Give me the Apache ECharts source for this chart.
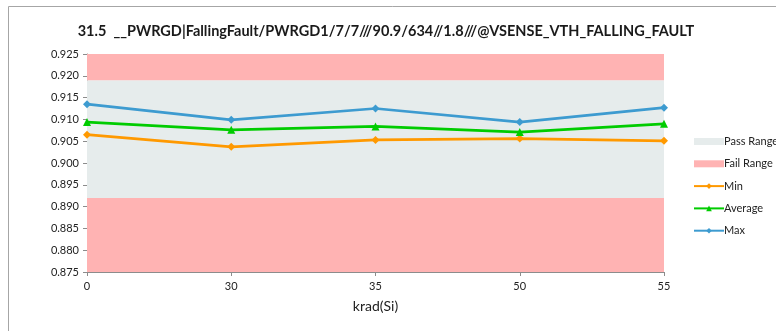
<!DOCTYPE html>
<html>
<head>
<meta charset="utf-8">
<script src="https://cdn.jsdelivr.net/npm/echarts@6/dist/echarts.min.js"></script>
<style>html,body{margin:0;padding:0;background:#fff}#c{width:776px;height:331px}</style>
</head>
<body>
<div id="c"></div>
<script>
const titleText = '31.5  __PWRGD|FallingFault/PWRGD1/7/7///90.9/634//1.8///@VSENSE_VTH_FALLING_FAULT';
const categories = ['0', '30', '35', '50', '55'];
const minValues = [0.9065, 0.9037, 0.9053, 0.9056, 0.9051];
const avgValues = [0.9094, 0.9076, 0.9084, 0.9071, 0.9090];
const maxValues = [0.9135, 0.9099, 0.9125, 0.9094, 0.9127];
const passRange = [0.892, 0.919];
const failRangeHigh = [0.919, 0.925];
const failRangeLow = [0.875, 0.892];
const yTicks = [0.875, 0.925, 0.005];

const FONT = 'Lato';
const chart = echarts.init(document.getElementById('c'));
chart.setOption({
  animation: false,
  textStyle: { fontFamily: FONT },
  graphic: [{
    type: 'rect', shape: { x: 8.5, y: 6.5, width: 800, height: 400 },
    style: { fill: 'none', stroke: '#a6a6a6', lineWidth: 1 }, silent: true, z: -1
  }],
  title: {
    text: titleText, left: 381, top: 19, textAlign: 'center',
    textStyle: { fontFamily: FONT, fontWeight: 'bold', fontSize: 14.5, color: '#1a1a1a' }
  },
  grid: { left: 87, right: 112, top: 54, bottom: 59 },
  legend: {
    orient: 'vertical', left: 688, top: 131, itemWidth: 30, itemHeight: 7, itemGap: 11.3,
    textStyle: { fontFamily: FONT, fontSize: 11, color: '#222', padding: [0, 0, 0, -5] },
    data: [
      { name: 'Pass Range', icon: 'rect' },
      { name: 'Fail Range', icon: 'rect' },
      'Min', 'Average', 'Max'
    ]
  },
  xAxis: {
    type: 'category', data: categories, boundaryGap: false,
    name: 'krad(Si)', nameLocation: 'middle', nameGap: 27,
    nameTextStyle: { fontFamily: FONT, fontSize: 14, color: '#222' },
    axisLine: { lineStyle: { color: '#8c8c8c' } },
    axisTick: { length: 4, lineStyle: { color: '#8c8c8c' } },
    axisLabel: { fontFamily: FONT, fontSize: 11, color: '#222', margin: 9 }
  },
  yAxis: {
    type: 'value', min: yTicks[0], max: yTicks[1], interval: yTicks[2],
    axisLine: { show: true, lineStyle: { color: '#8c8c8c' } },
    axisTick: { show: true, length: 4, lineStyle: { color: '#8c8c8c' } },
    splitLine: { show: false },
    axisLabel: { fontFamily: FONT, fontSize: 11, color: '#222', margin: 8,
      formatter: v => v.toFixed(3) }
  },
  series: [
    {
      name: 'Pass Range', type: 'line', data: [], itemStyle: { color: '#e6ecec' },
      markArea: { silent: true, itemStyle: { color: '#e6ecec' },
        data: [[{ yAxis: passRange[0] }, { yAxis: passRange[1] }]] }
    },
    {
      name: 'Fail Range', type: 'line', data: [], itemStyle: { color: '#ffb3b3' },
      markArea: { silent: true, itemStyle: { color: '#ffb3b3' },
        data: [[{ yAxis: failRangeHigh[0] }, { yAxis: failRangeHigh[1] }],
               [{ yAxis: failRangeLow[0] }, { yAxis: failRangeLow[1] }]] }
    },
    { name: 'Min', type: 'line', data: minValues, symbol: 'diamond', symbolSize: 8,
      itemStyle: { color: '#ff9900' }, lineStyle: { width: 2.75, color: '#ff9900' }, z: 3 },
    { name: 'Average', type: 'line', data: avgValues, symbol: 'triangle', symbolSize: 8,
      itemStyle: { color: '#00cc00' }, lineStyle: { width: 2.75, color: '#00cc00' }, z: 3 },
    { name: 'Max', type: 'line', data: maxValues, symbol: 'diamond', symbolSize: 8,
      itemStyle: { color: '#3d9bd0' }, lineStyle: { width: 2.75, color: '#3d9bd0' }, z: 3 }
  ]
});
</script>
</body>
</html>
